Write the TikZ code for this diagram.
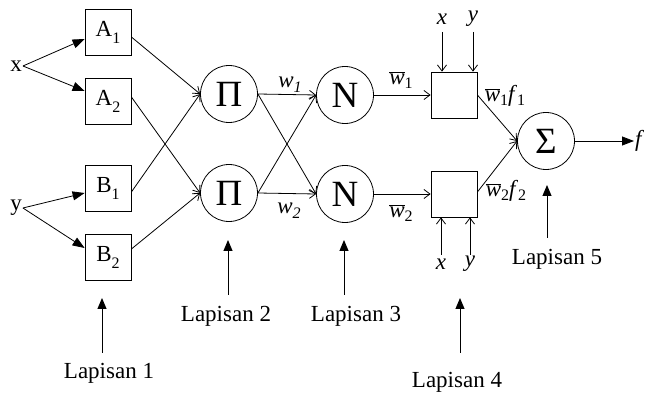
\documentclass[tikz,border=0pt]{standalone}
\usepackage{fontspec}
\setmainfont{Liberation Serif}
\usetikzlibrary{arrows.meta,calc}
\newcommand{\lowsub}[3][7pt]{#2\raisebox{-#1}{\fontsize{16}{16}\selectfont #3}}
\newcommand{\wbar}{$\overline{\hbox{\textit{w}}}$}
\begin{document}
\begin{tikzpicture}[x=1pt,y=-1pt,
  every node/.style={font=\fontsize{23}{26}\selectfont},
  box/.style={draw, line width=0.8pt, minimum width=46pt, minimum height=46pt, inner sep=0pt},
  unit/.style={draw, circle, line width=0.8pt, minimum size=57pt, inner sep=0pt, font=\fontsize{37}{37}\selectfont},
  lbl/.style={inner sep=1pt},
  wire/.style={line width=0.8pt},
  openarr/.style={wire, -{Straight Barb[length=6pt,width=9pt]}},
  solidarr/.style={wire, -{Triangle[length=12pt,width=9pt]}},
  layerarr/.style={line width=1pt, -{Triangle[length=11pt,width=9pt]}}
]
\useasboundingbox (0,0) rectangle (646,398);

% layer 1
\node[box] (A1) at (108,32) {\lowsub{A}{1}};
\node[box] (A2) at (108,101) {\lowsub{A}{2}};
\node[box] (B1) at (108,188) {\lowsub{B}{1}};
\node[box] (B2) at (108,257) {\lowsub{B}{2}};
\node[lbl] (xin) at (16,66) {x};
\node[lbl] (yin) at (16,208) {y};

% layer 2, 3
\node[unit] (P1) at (229,94) {Π};
\node[unit] (P2) at (229,193) {Π};
\node[unit] (N1) at (345,95) {N};
\node[unit] (N2) at (345,194) {N};

% layer 4
\node[box] (Q1) at (454,95) {};
\node[box] (Q2) at (454,194) {};
\node[lbl] (xt) at (442,19) {\textit{x}};
\node[lbl] (yt) at (473,19) {\textit{y}};
\node[lbl] (xb) at (441,264) {\textit{x}};
\node[lbl] (yb) at (470,264) {\textit{y}};

% layer 5
\node[unit] (S) at (546,141) {Σ};
\node[lbl, anchor=west] (f) at (634,141) {\textit{f}};

% labels on wires
\node[lbl] (w1) at (290,85) {\lowsub[5pt]{\textit{w}}{\textit{1}}};
\node[lbl] (w2) at (289,211) {\lowsub[5pt]{\textit{w}}{\textit{2}}};
\node[lbl] (wb1) at (401,80) {\lowsub[4pt]{\wbar}{1}};
\node[lbl] (wb2) at (401,213) {\lowsub[4pt]{\wbar}{2}};
\node[lbl] (wf1) at (505,96) {\lowsub[4pt]{\wbar}{1}\lowsub[4pt]{\textit{f}}{1}};
\node[lbl] (wf2) at (506,191) {\lowsub[4pt]{\wbar}{2}\lowsub[4pt]{\textit{f}}{2}};

% layer captions
\node (L1) at (109,373) {Lapisan 1};
\node (L2) at (226,316) {Lapisan 2};
\node (L3) at (356,316) {Lapisan 3};
\node (L4) at (457,382) {Lapisan 4};
\node (L5) at (557,259) {Lapisan 5};
\coordinate (L1a) at (102,353); \coordinate (L1b) at (102,298);
\coordinate (L2a) at (228,295); \coordinate (L2b) at (228,240);
\coordinate (L3a) at (344,295); \coordinate (L3b) at (344,240);
\coordinate (L4a) at (460,353); \coordinate (L4b) at (460,298);
\coordinate (L5a) at (547,238); \coordinate (L5b) at (547,185);
\draw[layerarr] (L1a) -- (L1b);
\draw[layerarr] (L2a) -- (L2b);
\draw[layerarr] (L3a) -- (L3b);
\draw[layerarr] (L4a) -- (L4b);
\draw[layerarr] (L5a) -- (L5b);

% inputs
\draw[solidarr] (xin.east) -- ($(A1.west)+(0,7)$);
\draw[solidarr] (xin.east) -- ($(A2.west)+(0,-10)$);
\draw[solidarr] (yin.east) -- ($(B1.west)+(0,5)$);
\draw[solidarr] (yin.east) -- ($(B2.west)+(0,-9)$);

% layer 1 -> 2
\draw[openarr] ($(A1.east)+(0,5)$) -- (P1.west);
\draw[openarr] ($(B1.east)+(0,4)$) -- (P1.west);
\draw[openarr] ($(A2.east)+(0,-4)$) -- (P2.west);
\draw[openarr] ($(B2.east)+(0,-8)$) -- (P2.west);

% layer 2 -> 3
\draw[openarr] (P1.east) -- (N1.west);
\draw[openarr] (P1.east) -- (N2.west);
\draw[openarr] (P2.east) -- (N1.west);
\draw[openarr] (P2.east) -- (N2.west);

% layer 3 -> 4
\draw[openarr] (N1.east) -- (Q1.west);
\draw[openarr] (N2.east) -- (Q2.west);
\draw[openarr] (xt |- 0,32) -- (xt |- Q1.north);
\draw[openarr] (yt |- 0,32) -- (yt |- Q1.north);
\draw[openarr] (xb |- 0,255) -- (xb |- Q2.south);
\draw[openarr] (yb |- 0,255) -- (yb |- Q2.south);

% layer 4 -> 5
\draw[openarr] (Q1.east) -- (S.west);
\draw[openarr] ($(Q2.east)+(0,-2)$) -- (S.west);
\draw[solidarr] (S.east) -- (f.west);
\end{tikzpicture}
\end{document}
